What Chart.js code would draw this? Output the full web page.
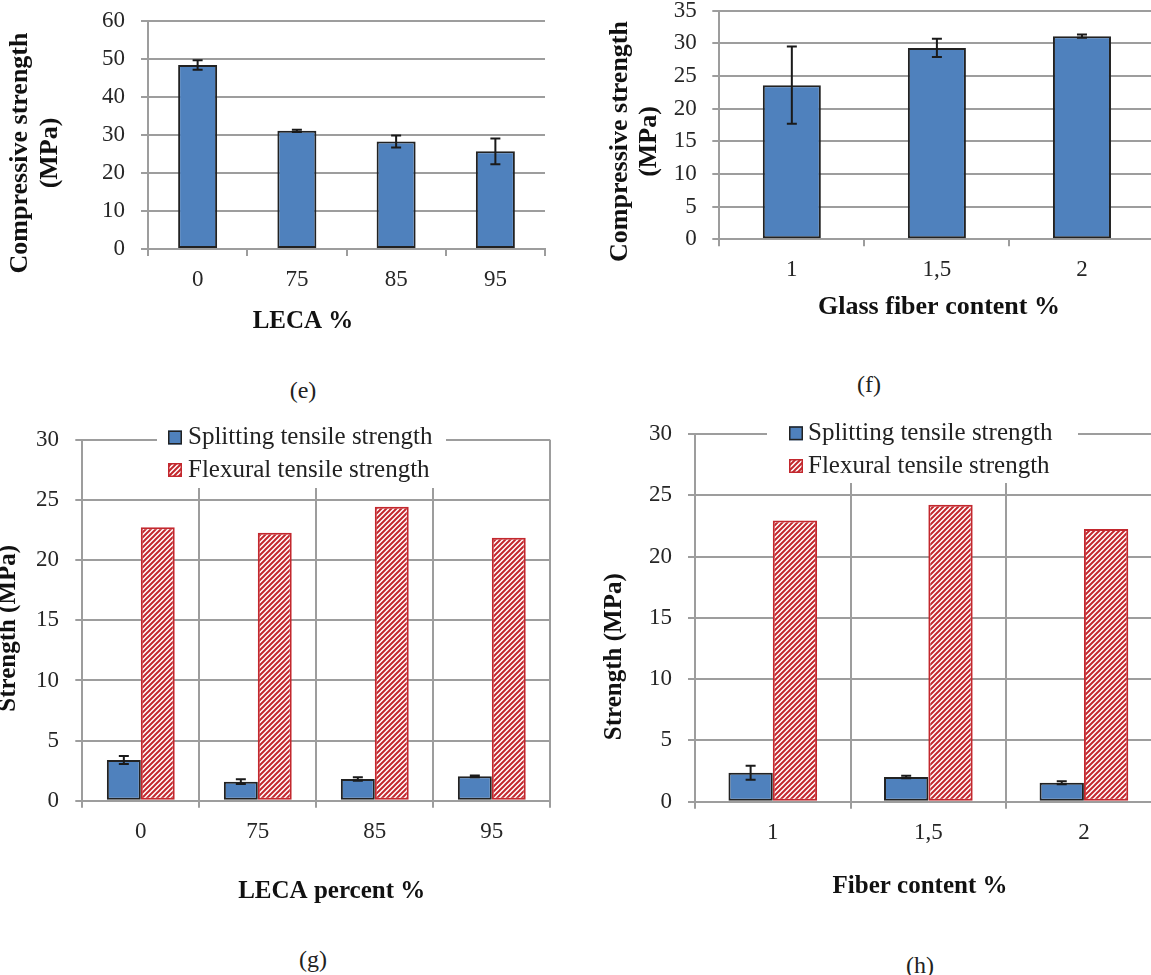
<!DOCTYPE html>
<html>
<head>
<meta charset="utf-8">
<script src="https://cdn.jsdelivr.net/npm/chart.js@4.4.1/dist/chart.umd.min.js"></script>
<style>
html,body{margin:0;padding:0;background:#fff;overflow:hidden;width:1151px;height:975px;position:relative;}
canvas{position:absolute;}
.cap{position:absolute;font-family:'Liberation Serif','Times New Roman',serif;font-size:24px;color:#222;transform:translate(-50%,-50%);line-height:1;white-space:nowrap;}
</style>
</head>
<body>
<canvas id="ce" width="575" height="345" style="left:0px;top:0px"></canvas>
<canvas id="cf" width="590" height="345" style="left:590px;top:0px"></canvas>
<canvas id="cg" width="575" height="500" style="left:0px;top:410px"></canvas>
<canvas id="ch" width="590" height="500" style="left:590px;top:410px"></canvas>
<div class="cap" style="left:303px;top:390px">(e)</div>
<div class="cap" style="left:869px;top:384px">(f)</div>
<div class="cap" style="left:313px;top:959px">(g)</div>
<div class="cap" style="left:920px;top:965px">(h)</div>
<script>
// ---------- data ----------
const lecaLabels = ['0', '75', '85', '95'];
const fiberLabels = ['1', '1,5', '2'];

const compLeca = [48.4, 31.1, 28.3, 25.7];
const compLecaErr = [1.25, 0.3, 1.6, 3.4];

const compFiber = [23.6, 29.3, 31.1];
const compFiberErr = [5.9, 1.4, 0.25];

const splitLeca = [3.39, 1.58, 1.81, 2.03];
const splitLecaErr = [0.33, 0.2, 0.15, 0.07];
const flexLeca = [22.75, 22.28, 24.45, 21.86];

const splitFiber = [2.37, 2.01, 1.55];
const splitFiberErr = [0.57, 0.1, 0.12];
const flexFiber = [22.95, 24.23, 22.24];

const seriesNames = ['Splitting tensile strength', 'Flexural tensile strength'];

// ---------- styling ----------
const FONT = "'Liberation Serif', 'Times New Roman', serif";
const GRID = '#9d9d9d';
const BLUE = '#4f81bd';
const RED = '#c3282e';
const TICKC = '#262626';

function makeHatch(color) {
  const c = document.createElement('canvas');
  c.width = 5; c.height = 5;
  const x = c.getContext('2d');
  x.fillStyle = '#fff'; x.fillRect(0, 0, 5, 5);
  x.strokeStyle = color; x.lineWidth = 2;
  x.beginPath();
  x.moveTo(-1, 6); x.lineTo(6, -1);
  x.moveTo(-1, 1); x.lineTo(1, -1);
  x.moveTo(4, 6); x.lineTo(6, 4);
  x.stroke();
  return x.createPattern(c, 'repeat');
}
const HATCH = makeHatch(RED);

// ---------- plugins ----------
const errorBarPlugin = {
  id: 'errorBars',
  afterDatasetsDraw(chart, args, opts) {
    const errs = opts.errors || [];
    const ctx = chart.ctx, ys = chart.scales.y;
    ctx.save();
    ctx.strokeStyle = '#1a1a1a';
    ctx.lineWidth = 2;
    errs.forEach((arr, di) => {
      if (!arr) return;
      const meta = chart.getDatasetMeta(di);
      const data = chart.data.datasets[di].data;
      meta.data.forEach((bar, i) => {
        const v = data[i], e = arr[i];
        const x = bar.x;
        const yt = ys.getPixelForValue(v + e), yb = ys.getPixelForValue(v - e);
        ctx.beginPath();
        ctx.moveTo(x, yt); ctx.lineTo(x, yb);
        ctx.moveTo(x - 5, yt); ctx.lineTo(x + 5, yt);
        ctx.moveTo(x - 5, yb); ctx.lineTo(x + 5, yb);
        ctx.stroke();
      });
    });
    ctx.restore();
  }
};

const boxLegendPlugin = {
  id: 'boxLegend',
  afterDraw(chart, args, o) {
    if (!o || !o.box) return;
    const ctx = chart.ctx;
    ctx.save();
    ctx.fillStyle = '#fff';
    ctx.fillRect(o.box[0], o.box[1], o.box[2] - o.box[0], o.box[3] - o.box[1]);
    ctx.font = '25px ' + FONT;
    ctx.textBaseline = 'middle';
    ctx.textAlign = 'left';
    chart.data.datasets.forEach((ds, i) => {
      const cy = o.rows[i];
      ctx.fillStyle = ds.backgroundColor;
      ctx.fillRect(o.sx, cy - 7, 14, 14);
      ctx.strokeStyle = ds.borderColor;
      ctx.lineWidth = 1.5;
      ctx.strokeRect(o.sx + 0.75, cy - 6.25, 12.5, 12.5);
      ctx.fillStyle = '#222';
      ctx.fillText(ds.label, o.tx, cy);
    });
    ctx.restore();
  }
};

const titlesPlugin = {
  id: 'axisTitles',
  afterDraw(chart, args, opts) {
    const ctx = chart.ctx;
    (opts.items || []).forEach(t => {
      ctx.save();
      ctx.font = 'bold ' + (t.size || 25) + 'px ' + FONT;
      ctx.fillStyle = '#111';
      ctx.textAlign = 'center';
      ctx.textBaseline = 'middle';
      ctx.translate(t.x, t.y);
      if (t.rotate) ctx.rotate(-Math.PI / 2);
      ctx.fillText(t.text, 0, 0);
      ctx.restore();
    });
  }
};

Chart.register(errorBarPlugin, boxLegendPlugin, titlesPlugin);

function scalesFor(o) {
  return {
    x: {
      type: 'category',
      offset: true,
      grid: {
        offset: true,
        drawOnChartArea: true,
        color: o.xGridColor || GRID,
        tickColor: GRID,
        lineWidth: 2,
        tickLength: 7,
        drawTicks: true
      },
      border: { display: true, color: GRID, width: 2 },
      ticks: { font: { family: FONT, size: 23 }, color: TICKC, padding: o.xPad, maxRotation: 0, autoSkip: false },
      afterFit: s => { s.height = o.xH; s.paddingLeft = 0; s.paddingRight = 0; }
    },
    y: {
      min: 0,
      max: o.max,
      ticks: { stepSize: o.step, font: { family: FONT, size: 23 }, color: TICKC, padding: o.yPad },
      grid: { color: GRID, lineWidth: 2, tickLength: 7, drawTicks: true },
      border: { display: true, color: GRID, width: 2 },
      afterFit: s => { s.width = o.yW; s.paddingTop = 0; s.paddingBottom = 0; }
    }
  };
}

function baseOptions(o) {
  return {
    responsive: false,
    animation: false,
    layout: { padding: o.pad },
    scales: scalesFor(o),
    plugins: {
      legend: { display: false },
      tooltip: { enabled: false },
      title: { display: false },
      errorBars: { errors: o.errors },
      boxLegend: o.legend || {},
      axisTitles: { items: o.titles }
    }
  };
}

// (e)
new Chart(document.getElementById('ce'), {
  type: 'bar',
  data: {
    labels: lecaLabels,
    datasets: [{
      data: compLeca, backgroundColor: BLUE, borderColor: '#222', borderWidth: 2,
      borderSkipped: false, categoryPercentage: 1, barPercentage: 0.393
    }]
  },
  options: baseOptions({
    pad: { left: 0, top: 21, right: 30, bottom: 0 },
    yW: 148, xH: 96, max: 60, step: 10, yPad: 16, xPad: 10,
    xGridColor: c => (c.index === lecaLabels.length ? GRID : 'rgba(0,0,0,0)'),
    errors: [compLecaErr],
    titles: [
      { text: 'LECA %', x: 303, y: 322 },
      { text: 'Compressive strength', x: 20, y: 153, rotate: true, size: 26 },
      { text: '(MPa)', x: 50, y: 153, rotate: true, size: 26 }
    ]
  })
});

// (f)
new Chart(document.getElementById('cf'), {
  type: 'bar',
  data: {
    labels: fiberLabels,
    datasets: [{
      data: compFiber, backgroundColor: BLUE, borderColor: '#222', borderWidth: 2,
      borderSkipped: false, categoryPercentage: 1, barPercentage: 0.40
    }]
  },
  options: baseOptions({
    pad: { left: 0, top: 10.7, right: 25.5, bottom: 0 },
    yW: 129.3, xH: 105.7, max: 35, step: 5, yPad: 15.6, xPad: 10,
    xGridColor: c => (c.index === fiberLabels.length ? GRID : 'rgba(0,0,0,0)'),
    errors: [compFiberErr],
    titles: [
      { text: 'Glass fiber content %', x: 349, y: 307, size: 26 },
      { text: 'Compressive strength', x: 30, y: 141.5, rotate: true, size: 26 },
      { text: '(MPa)', x: 59, y: 141.5, rotate: true, size: 26 }
    ]
  })
});

// (g)
new Chart(document.getElementById('cg'), {
  type: 'bar',
  data: {
    labels: lecaLabels,
    datasets: [
      { label: seriesNames[0], data: splitLeca, backgroundColor: BLUE, borderColor: '#222', borderWidth: 2,
        borderSkipped: false, categoryPercentage: 0.58, barPercentage: 1 },
      { label: seriesNames[1], data: flexLeca, backgroundColor: HATCH, borderColor: RED, borderWidth: 2,
        borderSkipped: false, categoryPercentage: 0.58, barPercentage: 1 }
    ]
  },
  options: baseOptions({
    pad: { left: 0, top: 30, right: 24.7, bottom: 0 },
    yW: 82.3, xH: 109.3, max: 30, step: 5, yPad: 16.3, xPad: 10,
    errors: [splitLecaErr, null],
    legend: { box: [157, 12, 446, 78], rows: [27.5, 60], sx: 168, tx: 188 },
    titles: [
      { text: 'LECA percent %', x: 331.7, y: 481.7 },
      { text: 'Strength (MPa)', x: 9, y: 218.3, rotate: true }
    ]
  })
});

// (h)
new Chart(document.getElementById('ch'), {
  type: 'bar',
  data: {
    labels: fiberLabels,
    datasets: [
      { label: seriesNames[0], data: splitFiber, backgroundColor: BLUE, borderColor: '#222', borderWidth: 2,
        borderSkipped: false, categoryPercentage: 0.57, barPercentage: 1 },
      { label: seriesNames[1], data: flexFiber, backgroundColor: HATCH, borderColor: RED, borderWidth: 2,
        borderSkipped: false, categoryPercentage: 0.57, barPercentage: 1 }
    ]
  },
  options: baseOptions({
    pad: { left: 0, top: 24, right: 18.3, bottom: 0 },
    yW: 105, xH: 108.3, max: 30, step: 5, yPad: 16, xPad: 10.6,
    errors: [splitFiberErr, null],
    legend: { box: [177, 6, 488, 73], rows: [23.3, 56], sx: 199, tx: 218 },
    titles: [
      { text: 'Fiber content %', x: 330, y: 476.7 },
      { text: 'Strength (MPa)', x: 25, y: 246.7, rotate: true }
    ]
  })
});
</script>
</body>
</html>
